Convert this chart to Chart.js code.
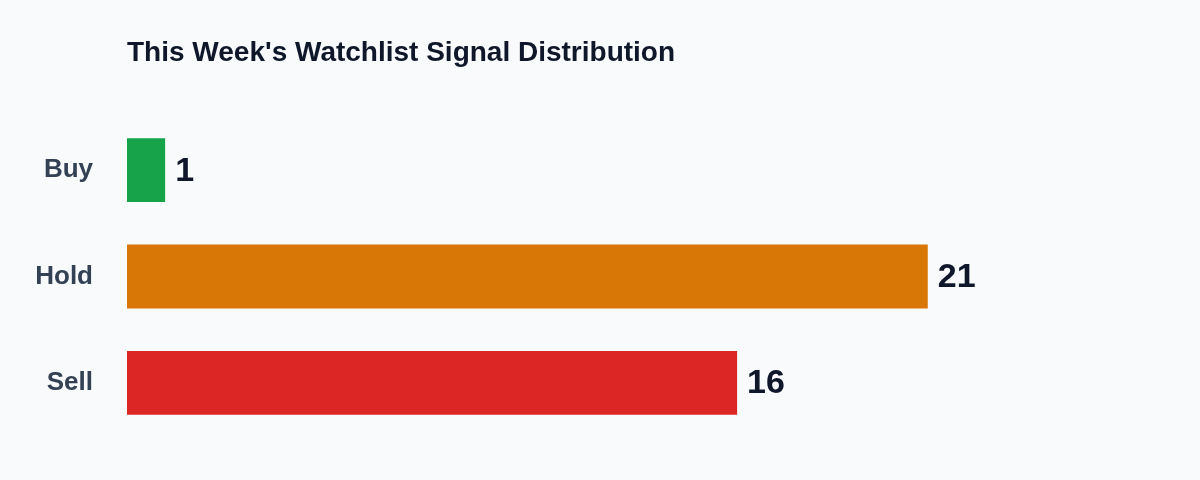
<!DOCTYPE html>
<html><head><meta charset="utf-8">
<script src="https://cdn.jsdelivr.net/npm/chart.js@4"></script>
<style>html,body{margin:0;background:#f8fafc}#w{width:1200px;height:480px}</style>
</head><body><div id="w"><canvas id="c"></canvas></div>
<script>
const categories = ["Buy", "Hold", "Sell"];
const counts = [1, 21, 16];
const barColors = ["#16a34a", "#d97706", "#dc2626"];
const titleText = "This Week's Watchlist Signal Distribution";

const extras = {
  id: 'extras',
  afterDatasetsDraw(chart) {
    const ctx = chart.ctx;
    ctx.save();
    ctx.fillStyle = '#0f172a';
    ctx.font = 'bold 28px "Liberation Sans", Arial, sans-serif';
    ctx.textBaseline = 'middle';
    ctx.textAlign = 'left';
    ctx.fillText(titleText, chart.chartArea.left, 53);
    ctx.font = 'bold 34px "Liberation Sans", Arial, sans-serif';
    chart.getDatasetMeta(0).data.forEach((bar, i) => {
      ctx.fillText(String(counts[i]), bar.x + 10, bar.y + 1);
    });
    ctx.restore();
  }
};

new Chart(document.getElementById('c'), {
  type: 'bar',
  data: { labels: categories, datasets: [{ data: counts, backgroundColor: barColors, barPercentage: 0.6, categoryPercentage: 1 }] },
  options: {
    indexAxis: 'y', responsive: true, maintainAspectRatio: false, animation: false,
    layout: { padding: { top: 117, bottom: 44, right: 32, left: 0 } },
    plugins: { legend: { display: false }, tooltip: { enabled: false } },
    scales: {
      x: { display: false, min: 0, max: 27.3 },
      y: {
        grid: { display: false }, border: { display: false },
        ticks: { color: '#334155', padding: 26, font: { size: 26, weight: 'bold', family: '"Liberation Sans", Arial, sans-serif' } },
        afterFit(s) { s.width = 127; }
      }
    }
  },
  plugins: [extras]
});
</script></body></html>
